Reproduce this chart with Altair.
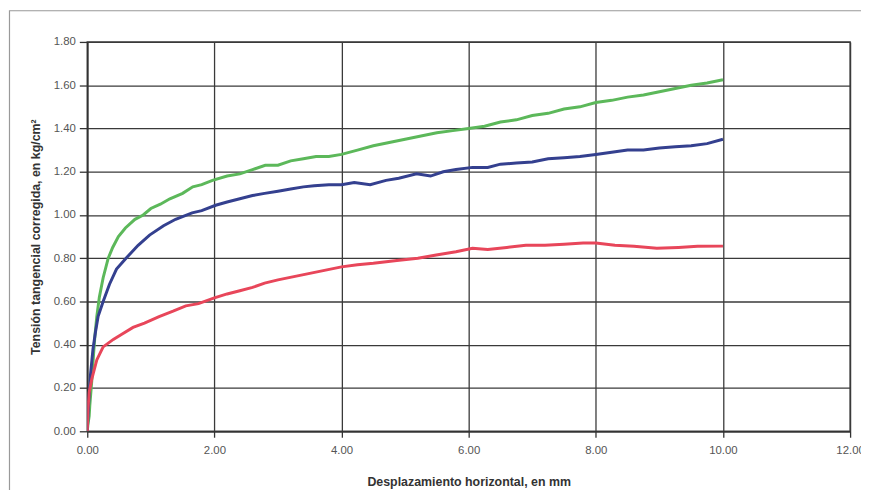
import altair as alt
import pandas as pd

# ---- data ----
green_x = [0, 0.01, 0.03, 0.04, 0.07, 0.10, 0.12, 0.15, 0.19, 0.25, 0.33, 0.40, 0.49, 0.60, 0.75, 0.88,
           1.00, 1.15, 1.30, 1.50, 1.66, 1.80, 1.97, 2.2, 2.4, 2.6, 2.8, 3.0, 3.2, 3.4, 3.6, 3.8, 4.0,
           4.25, 4.5, 4.75, 5.0, 5.25, 5.5, 5.75, 6.0, 6.25, 6.5, 6.75, 7.0, 7.25, 7.5, 7.75, 8.0,
           8.25, 8.5, 8.75, 9.0, 9.25, 9.5, 9.75, 10.0]
green_y = [0, 0.03, 0.07, 0.12, 0.23, 0.36, 0.44, 0.53, 0.62, 0.71, 0.80, 0.85, 0.90, 0.94, 0.98, 1.00,
           1.03, 1.05, 1.075, 1.10, 1.13, 1.14, 1.16, 1.18, 1.19, 1.21, 1.23, 1.23, 1.25, 1.26, 1.27, 1.27, 1.28,
           1.30, 1.32, 1.335, 1.35, 1.365, 1.38, 1.39, 1.40, 1.41, 1.43, 1.44, 1.46, 1.47, 1.49, 1.50, 1.52,
           1.53, 1.545, 1.555, 1.57, 1.585, 1.60, 1.61, 1.625]

blue_x = [0, 0.02, 0.05, 0.09, 0.13, 0.17, 0.25, 0.35, 0.46, 0.61, 0.80, 0.98, 1.2, 1.39, 1.65, 1.8,
          2.02, 2.2, 2.4, 2.6, 2.79, 3.0, 3.2, 3.4, 3.57, 3.8, 4.0, 4.2, 4.45, 4.7, 4.9, 5.18, 5.4, 5.6,
          5.8, 6.06, 6.3, 6.5, 6.75, 7.0, 7.25, 7.5, 7.75, 8.0, 8.25, 8.5, 8.75, 9.0, 9.25, 9.5, 9.75, 10.0]
blue_y = [0, 0.12, 0.26, 0.38, 0.46, 0.53, 0.60, 0.68, 0.75, 0.80, 0.86, 0.907, 0.95, 0.98, 1.01, 1.02,
          1.045, 1.06, 1.075, 1.09, 1.10, 1.11, 1.12, 1.13, 1.135, 1.14, 1.14, 1.15, 1.14, 1.16, 1.17, 1.19, 1.18, 1.20,
          1.21, 1.22, 1.22, 1.235, 1.24, 1.245, 1.26, 1.265, 1.27, 1.28, 1.29, 1.30, 1.30, 1.31, 1.315, 1.32, 1.33, 1.35]

red_x = [0, 0.01, 0.03, 0.07, 0.15, 0.25, 0.41, 0.55, 0.72, 0.9, 1.13, 1.35, 1.55, 1.75, 2.0, 2.2, 2.4,
         2.6, 2.79, 3.0, 3.25, 3.5, 3.75, 4.0, 4.25, 4.5, 4.87, 5.2, 5.49, 5.8, 6.06, 6.3, 6.6, 6.9, 7.2,
         7.5, 7.8, 8.0, 8.3, 8.6, 8.96, 9.3, 9.6, 10.0]
red_y = [0, 0.10, 0.18, 0.24, 0.33, 0.39, 0.425, 0.45, 0.48, 0.50, 0.53, 0.555, 0.58, 0.59, 0.617, 0.635, 0.65,
         0.665, 0.685, 0.70, 0.715, 0.73, 0.745, 0.76, 0.77, 0.777, 0.79, 0.80, 0.815, 0.83, 0.846, 0.84, 0.85, 0.86, 0.86,
         0.865, 0.87, 0.87, 0.86, 0.855, 0.846, 0.85, 0.855, 0.856]

series_names = ["Verde", "Azul", "Rojo"]
series_colors = ["#5cb85a", "#34408f", "#e8465a"]

x_ticks = [0, 2, 4, 6, 8, 10, 12]
y_ticks = [0, 0.2, 0.4, 0.6, 0.8, 1.0, 1.2, 1.4, 1.6, 1.8]

rows = []
for name, xs, ys in [("Verde", green_x, green_y), ("Azul", blue_x, blue_y), ("Rojo", red_x, red_y)]:
    for i, (a, b) in enumerate(zip(xs, ys)):
        rows.append({"serie": name, "x": a, "y": b, "i": i})
df = pd.DataFrame(rows)

W, H = 770, 393
FONT = "Liberation Sans"

lines = alt.Chart(df).mark_line(strokeWidth=3, clip=True, interpolate="linear").encode(
    x=alt.X("x:Q",
            scale=alt.Scale(domain=[0, 12], nice=False, zero=False),
            axis=alt.Axis(values=x_ticks, format=".2f", title="Desplazamiento horizontal, en mm",
                          titlePadding=20, tickSize=6, labelPadding=7, labelFlush=False)),
    y=alt.Y("y:Q",
            scale=alt.Scale(domain=[0, 1.8], nice=False),
            axis=alt.Axis(values=y_ticks, format=".2f", title="Tensión tangencial corregida, en kg/cm²",
                          titlePadding=11, tickSize=8, labelPadding=4, labelFlush=False)),
    color=alt.Color("serie:N", scale=alt.Scale(domain=series_names, range=series_colors), legend=None),
    order="i:Q",
)

frame = alt.Chart(pd.DataFrame({"a": [0]})).mark_rect(
    fillOpacity=0, stroke="#999999", strokeWidth=1.2, clip=False
).encode(
    x=alt.value(-78.5), x2=alt.value(W + 40), y=alt.value(-31.5), y2=alt.value(H + 120)
)

chart = alt.layer(frame, lines).properties(
    width=W, height=H,
    padding={"left": 80, "top": 32, "right": 11, "bottom": 57},
    autosize=alt.AutoSizeParams(type="none"),
    background="white",
).configure_view(stroke="#444444", strokeWidth=1.5).configure_axis(
    grid=True, gridColor="#3a3a3a", gridWidth=1.3, gridOpacity=1,
    domainColor="#333333", domainWidth=1.5,
    tickColor="#333333", tickWidth=1.3,
    labelFont=FONT, labelFontSize=11.5, labelColor="#555555",
    titleFont=FONT, titleFontSize=12.5, titleFontWeight="bold", titleColor="#333333",
)

chart.save("out.html", embed_options={"renderer": "svg", "actions": False})
